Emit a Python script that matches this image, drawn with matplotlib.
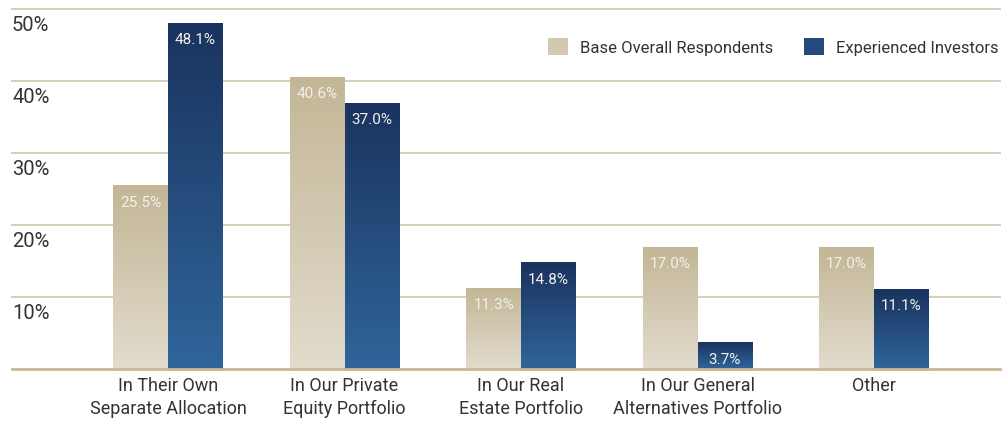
import numpy as np
import matplotlib.pyplot as plt
from matplotlib.colors import LinearSegmentedColormap
from matplotlib.patches import Patch

# Datos
categorias = ['In Their Own\nSeparate Allocation', 'In Our Private\nEquity Portfolio',
              'In Our Real\nEstate Portfolio', 'In Our General\nAlternatives Portfolio', 'Other']
base = [25.5, 40.6, 11.3, 17.0, 17.0]
experienced = [48.1, 37.0, 14.8, 3.7, 11.1]
series_names = ['Base Overall Respondents', 'Experienced Investors']
yticks = [10, 20, 30, 40, 50]

plt.rcParams['font.family'] = ['Roboto', 'DejaVu Sans']

beige_map = LinearSegmentedColormap.from_list('beige', ['#e2dccd', '#c3b696'])
blue_map = LinearSegmentedColormap.from_list('blue', ['#30659a', '#1a335f'])
txt = '#333333'

fig = plt.figure(figsize=(10.05, 4.24), dpi=100)
ax = fig.add_axes([12 / 1005, 55 / 424, 988 / 1005, 360 / 424])

x = np.arange(len(categorias))
w = 0.31
grad = np.linspace(0, 1, 256).reshape(-1, 1)[::-1]

for vals, cmap, off in [(base, beige_map, -w / 2), (experienced, blue_map, w / 2)]:
    bars = ax.bar(x + off, vals, w, color='none', zorder=2)
    for b, v in zip(bars, vals):
        x0, x1 = b.get_x(), b.get_x() + b.get_width()
        im = ax.imshow(grad, extent=[x0, x1, 0, v], aspect='auto', cmap=cmap, zorder=2)
        im.set_clip_path(b)
        ax.annotate(f'{v:.1f}%', (x0 + w / 2, v), xytext=(0, -12.5), textcoords='offset points',
                    ha='center', va='center', color='#f4f1ea', fontsize=11, zorder=3)

ax.set_xlim((12 - 168) / 176.5, (1000 - 168) / 176.5)
ax.set_ylim(0, 50)

for t in yticks:
    ax.axhline(t, color='#d3cab5', lw=1.3, zorder=1, clip_on=False)
    ax.annotate(f'{t}%', (0, t), xycoords=('axes fraction', 'data'), xytext=(0, -5),
                textcoords='offset points', ha='left', va='top', fontsize=14.5, color=txt)
ax.axhline(0, color='#c8b894', lw=2, zorder=4, clip_on=False)

for xi, c in zip(x, categorias):
    ax.annotate(c, (xi, 0), xytext=(0, -6), textcoords='offset points', ha='center', va='top',
                fontsize=13, color=txt, linespacing=1.35, annotation_clip=False)

ax.set_xticks([])
ax.set_yticks([])
for s in ax.spines.values():
    s.set_visible(False)

handles = [Patch(facecolor='#d3c9b2'), Patch(facecolor='#25497c')]
ax.legend(handles, series_names, loc='upper right', bbox_to_anchor=(1.014, 0.96), ncol=2,
          frameon=False, fontsize=12, handlelength=1.2, handleheight=1.2, columnspacing=1.8,
          handletextpad=0.75, labelcolor=txt)

fig.savefig('out.png', dpi=100)
